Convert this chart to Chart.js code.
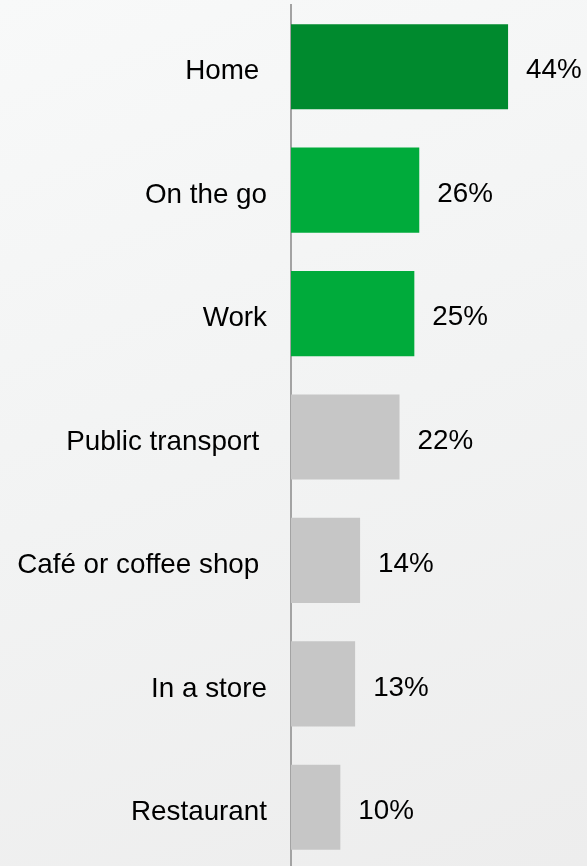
<!DOCTYPE html>
<html>
<head>
<meta charset="utf-8">
<script src="https://cdn.jsdelivr.net/npm/chart.js@4/dist/chart.umd.min.js"></script>
<style>
  html, body { margin: 0; padding: 0; width: 587px; height: 866px; overflow: hidden; }
  body { background: linear-gradient(160deg, #f8f9f9 0%, #f2f3f3 50%, #ededed 100%); }
  canvas { display: block; }
</style>
</head>
<body>
<canvas id="placeChart" width="587" height="869"></canvas>
<script>
// where people are — share of respondents
const places = ['Home ', 'On the go', 'Work', 'Public transport ', 'Café or coffee shop ', 'In a store', 'Restaurant'];
const shares = [44, 26, 25, 22, 14, 13, 10];
const barColors = ['#008a2e', '#00ab3b', '#00ab3b', '#c6c6c6', '#c6c6c6', '#c6c6c6', '#c6c6c6'];

const FONT = { family: '"Liberation Sans", Arial, sans-serif', size: 27.8 };

// value labels to the right of each bar
const valueLabels = {
  id: 'valueLabels',
  afterDatasetsDraw(chart) {
    const ctx = chart.ctx;
    const meta = chart.getDatasetMeta(0);
    ctx.save();
    ctx.font = FONT.size + 'px ' + FONT.family;
    ctx.fillStyle = '#000';
    ctx.textAlign = 'left';
    ctx.textBaseline = 'middle';
    meta.data.forEach((bar, i) => {
      ctx.fillText(shares[i] + '%', bar.x + 18, bar.y + 4);
    });
    ctx.restore();
  }
};

new Chart(document.getElementById('placeChart'), {
  type: 'bar',
  data: {
    labels: places,
    datasets: [{
      data: shares,
      backgroundColor: barColors,
      borderWidth: 0,
      barPercentage: 0.69,
      categoryPercentage: 1
    }]
  },
  options: {
    indexAxis: 'y',
    responsive: false,
    animation: false,
    layout: { padding: { top: 5, bottom: 0, left: 0, right: 0 } },
    plugins: { legend: { display: false }, tooltip: { enabled: false } },
    scales: {
      x: { display: false, min: 0, max: 60 },
      y: {
        afterFit(scale) {
          scale.width = 291;
          scale.paddingTop = 0;
          scale.paddingBottom = 0;
        },
        grid: { display: false, drawTicks: false },
        border: { display: true, color: '#a3a3a3', width: 2 },
        ticks: { color: '#000', font: FONT, padding: 24, labelOffset: 5 }
      }
    }
  },
  plugins: [valueLabels]
});
</script>
</body>
</html>
